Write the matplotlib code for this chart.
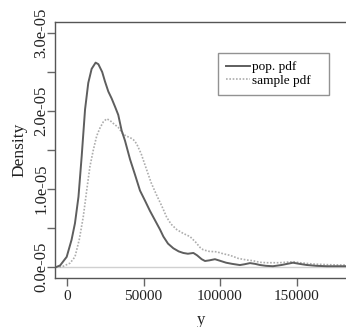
import matplotlib
matplotlib.use("Agg")
import matplotlib.pyplot as plt
from matplotlib.ticker import FixedLocator, FuncFormatter

# ---- data ----
pop_x = [-7000, -4500, -200, 3000, 5200, 7500, 9600, 11800, 13900, 16100, 18700, 20500,
         23000, 24800, 27000, 29200, 31500, 33500, 35700, 37900, 41200, 44500, 47700,
         51000, 54200, 57500, 60800, 63000, 66000, 69500, 73000, 76000, 79000, 82600,
         85000, 88000, 90200, 93000, 96700, 100000, 104000, 108000, 113000, 116000,
         119600, 123000, 126000, 130000, 134600, 140000, 147700, 152000, 156600,
         163000, 169700, 176000, 185000]
pop_y = [0.0, 0.2e-6, 1.3e-6, 3.5e-6, 5.6e-6, 9.0e-6, 1.42e-5, 2.02e-5, 2.36e-5, 2.54e-5,
         2.62e-5, 2.6e-5, 2.5e-5, 2.38e-5, 2.25e-5, 2.16e-5, 2.05e-5, 1.95e-5, 1.75e-5,
         1.62e-5, 1.38e-5, 1.18e-5, 9.8e-6, 8.5e-6, 7.2e-6, 6.0e-6, 4.8e-6, 3.9e-6,
         3.0e-6, 2.4e-6, 2.0e-6, 1.8e-6, 1.7e-6, 1.8e-6, 1.5e-6, 1.0e-6, 7.7e-7, 8.5e-7,
         1.0e-6, 8.0e-7, 5.5e-7, 4.0e-7, 2.5e-7, 3.5e-7, 5.0e-7, 4.0e-7, 2.6e-7, 1.5e-7,
         1.0e-7, 2.5e-7, 5.5e-7, 4.0e-7, 2.6e-7, 1.5e-7, 1.0e-7, 1.0e-7, 1.0e-7]

samp_x = [-5000, -2400, 2000, 5200, 8000, 10600, 13000, 15000, 17200, 19400, 21500, 23700,
          25900, 28000, 30300, 33500, 36000, 38500, 41200, 43500, 45500, 48500, 52000,
          55000, 58600, 62000, 65100, 68000, 71700, 76000, 80400, 84000, 87000, 89100,
          93000, 97800, 102000, 106500, 112000, 117400, 121700, 126000, 130500, 139000,
          147900, 152000, 160900, 170000, 178400, 186000]
samp_y = [0.0, 0.1e-6, 0.5e-6, 1.3e-6, 3.5e-6, 6.4e-6, 1.0e-5, 1.29e-5, 1.5e-5, 1.68e-5,
          1.78e-5, 1.86e-5, 1.9e-5, 1.88e-5, 1.84e-5, 1.79e-5, 1.72e-5, 1.68e-5, 1.66e-5,
          1.63e-5, 1.58e-5, 1.45e-5, 1.25e-5, 1.08e-5, 9.2e-6, 7.8e-6, 6.4e-6, 5.5e-6,
          4.8e-6, 4.3e-6, 3.9e-6, 3.2e-6, 2.5e-6, 2.2e-6, 2.0e-6, 1.95e-6, 1.7e-6, 1.5e-6,
          1.1e-6, 9.0e-7, 8.0e-7, 6.0e-7, 5.5e-7, 5.5e-7, 6.8e-7, 5.5e-7, 3.8e-7, 3.0e-7,
          2.6e-7, 2.5e-7]

x_ticks = [0, 50000, 100000, 150000]
y_ticks = [0, 0.5e-5, 1.0e-5, 1.5e-5, 2.0e-5, 2.5e-5, 3.0e-5]
y_labels = {0: "0.0e-05", 1.0e-5: "1.0e-05", 2.0e-5: "2.0e-05", 3.0e-5: "3.0e-05"}
series_labels = ["pop. pdf", "sample pdf"]

plt.rcParams['font.family'] = ['Liberation Serif', 'DejaVu Serif']

W, H = 346, 327
fig = plt.figure(figsize=(W / 100, H / 100), dpi=100)
ax = fig.add_axes([55 / W, (H - 278) / H, (347 - 55) / W, (278 - 22) / H])

ax.axhline(0, color="#d0d0d0", lw=1.0, zorder=1)
ax.plot(pop_x, pop_y, color="#5e5e5e", lw=1.4, label=series_labels[0], zorder=3)
ax.plot(samp_x, samp_y, color="#adadad", lw=1.2, ls=(0, (1, 1)), label=series_labels[1], zorder=2)

ax.set_xlim(-7843, 183000)
ax.set_ylim(-1.41e-6, 3.141e-5)

ax.xaxis.set_major_locator(FixedLocator(x_ticks))
ax.set_xticklabels([str(v) for v in x_ticks])
ax.yaxis.set_major_locator(FixedLocator(y_ticks))

def yfmt(v, pos):
    for k, s in y_labels.items():
        if abs(v - k) < 1e-9:
            return s
    return ""
ax.yaxis.set_major_formatter(FuncFormatter(yfmt))

for lab in ax.get_yticklabels():
    lab.set_rotation(90)
    lab.set_va("center")

ax.tick_params(axis="x", direction="out", length=6, width=1, color="#666666",
               labelsize=11, pad=3, labelcolor="#222222")
ax.tick_params(axis="y", direction="out", length=6, width=1, color="#666666",
               labelsize=12, pad=-2, labelcolor="#222222")

for s in ["left", "bottom", "top"]:
    ax.spines[s].set_color("#555555")
    ax.spines[s].set_linewidth(1.0)
ax.spines["right"].set_visible(False)

ax.set_xlabel("y", fontsize=12, color="#222222", labelpad=6)
ax.set_ylabel("Density", fontsize=12.5, color="#222222")
ax.yaxis.set_label_coords((27 - 55) / 292, 0.5)

leg = ax.legend(loc="upper left", bbox_to_anchor=(218 / W, 1 - 92 / H, 111 / W, 39 / H),
                bbox_transform=fig.transFigure, mode="expand", fontsize=9.5, frameon=True,
                fancybox=False, edgecolor="#777777", handlelength=1.8,
                handletextpad=0.15, borderpad=0.6, labelspacing=0.1,
                borderaxespad=0)
leg.get_frame().set_linewidth(1.0)

fig.savefig("out.png", dpi=100)
